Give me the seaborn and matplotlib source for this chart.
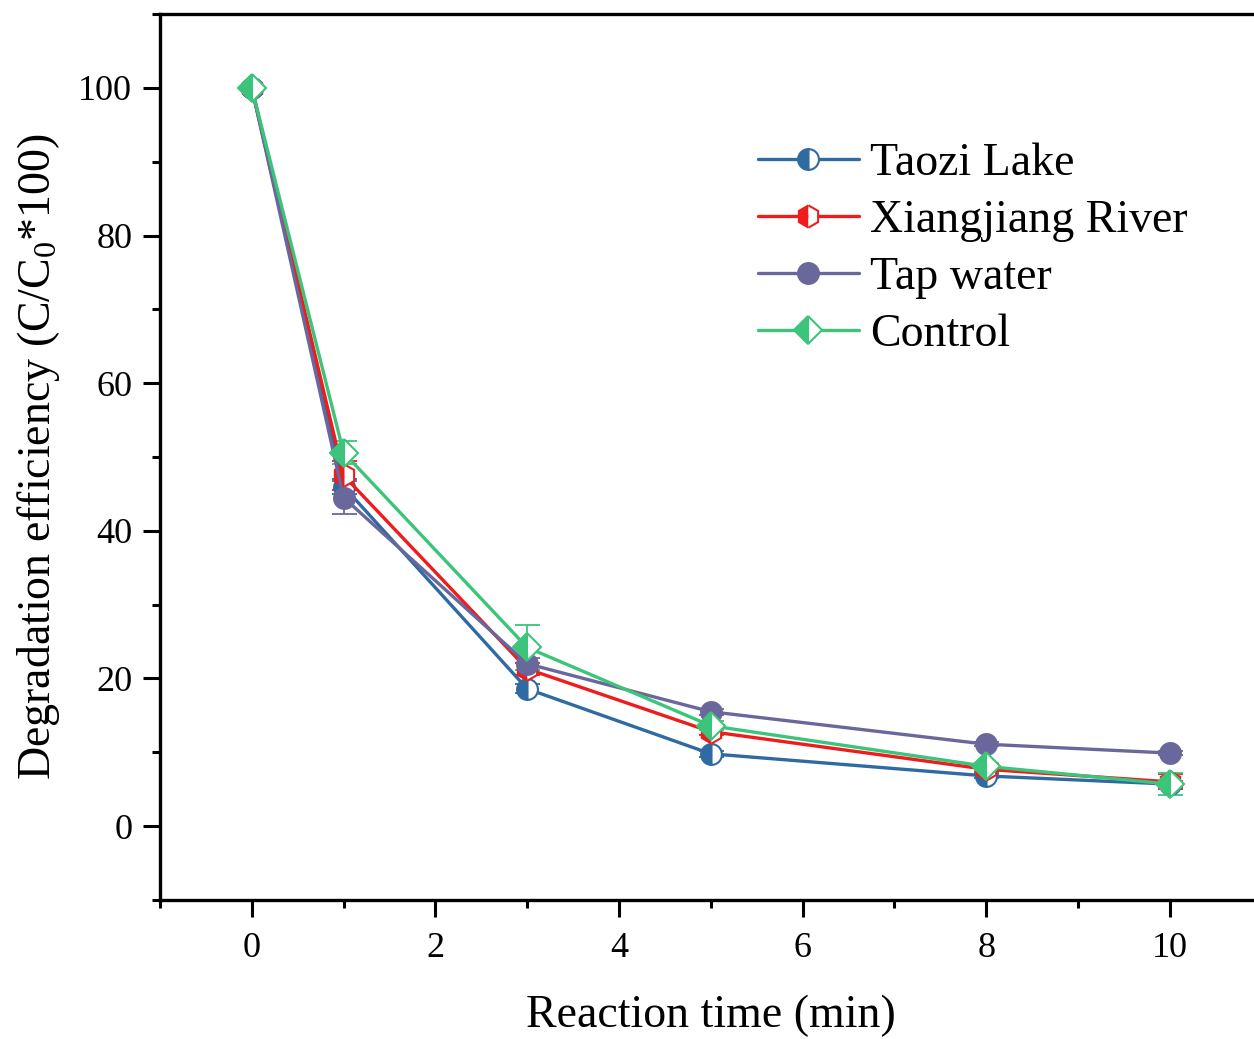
import numpy as np
import pandas as pd
import matplotlib
matplotlib.use("Agg")
import matplotlib.pyplot as plt
import seaborn as sns

# ---- data ----
time_min = [0, 1, 3, 5, 8, 10]
taozi = [100, 46.0, 18.6, 9.8, 6.8, 5.7]
taozi_err = [0.3, 1.0, 0.6, 0.4, 0.3, 0.4]
xiangjiang = [100, 47.5, 21.3, 12.8, 7.7, 6.0]
xiangjiang_err = [0.3, 2.0, 0.8, 0.5, 0.4, 1.0]
tap = [100, 44.5, 22.0, 15.5, 11.1, 9.9]
tap_err = [0.3, 2.2, 0.8, 0.4, 0.3, 0.3]
control = [100, 50.6, 24.2, 13.6, 8.1, 5.7]
control_err = [0.3, 1.5, 3.1, 0.6, 0.5, 1.5]
series_names = ["Taozi Lake", "Xiangjiang River", "Tap water", "Control"]
x_ticks = [0, 2, 4, 6, 8, 10]
y_ticks = [0, 20, 40, 60, 80, 100]

colors = ["#2F6AA3", "#EE1C1C", "#69679B", "#3CC47A"]
markers = ["o", "h", "o", "D"]
fills = ["left", "left", "full", "left"]
msizes = [15, 16, 15, 14]

sns.set_theme(style="ticks")
plt.rcParams["font.family"] = ["Liberation Serif", "DejaVu Serif"]
plt.rcParams["mathtext.fontset"] = "custom"
plt.rcParams["mathtext.rm"] = "Liberation Serif"
plt.rcParams["mathtext.it"] = "Liberation Serif:italic"
plt.rcParams["mathtext.default"] = "regular"
plt.rcParams["text.color"] = "black"
plt.rcParams["axes.labelcolor"] = "black"

fig = plt.figure(figsize=(12.54, 10.39), dpi=100)
ax = fig.add_axes([0.1276, 0.1338, 1.006 - 0.1276, 0.9865 - 0.1338])

values = [taozi, xiangjiang, tap, control]
errs = [taozi_err, xiangjiang_err, tap_err, control_err]

for name, vals, err, c in zip(series_names, values, errs, colors):
    ax.errorbar(time_min, vals, yerr=err, fmt="none", ecolor=c, elinewidth=1.3,
                capsize=9, capthick=1.3, zorder=2)
for name, vals, err, c, m, fs, ms in zip(series_names, values, errs, colors, markers, fills, msizes):
    df = pd.DataFrame({"t": time_min, "v": vals})
    sns.lineplot(data=df, x="t", y="v", ax=ax, color=c, linewidth=2.4,
                 marker=m, markersize=ms, fillstyle=fs,
                 markerfacecolor=c, markerfacecoloralt="white",
                 markeredgecolor=c, markeredgewidth=1.5, label=name, zorder=3)

ax.set_xlim(-1, 11)
ax.set_ylim(-10, 110)
ax.set_xticks(x_ticks)
ax.set_yticks(y_ticks)
ax.set_xticks(np.arange(-1, 12, 1), minor=True)
ax.set_yticks(np.arange(-10, 111, 10), minor=True)
ax.tick_params(axis="both", which="major", direction="out", length=12, width=2.2,
               labelsize=26, pad=8, colors="black")
ax.tick_params(axis="x", which="major", pad=11)
ax.tick_params(axis="both", which="minor", direction="out", length=6, width=2.2, colors="black")
ax.tick_params(top=False, right=False, which="both")
for s in ax.spines.values():
    s.set_linewidth(2.4)
    s.set_color("black")

ax.set_xlabel("Reaction time (min)", fontsize=33, labelpad=21, color="black")
ax.set_ylabel("Degradation efficiency (C/C$_0$*100)", fontsize=33, labelpad=12, color="black")

leg = ax.legend(loc="upper left", bbox_to_anchor=(0.526, 0.876), frameon=False,
                fontsize=33, handlelength=2.2, handletextpad=0.25, labelspacing=0.32,
                borderaxespad=0)
for t in leg.get_texts():
    t.set_color("black")

fig.savefig("out.png", dpi=100)
